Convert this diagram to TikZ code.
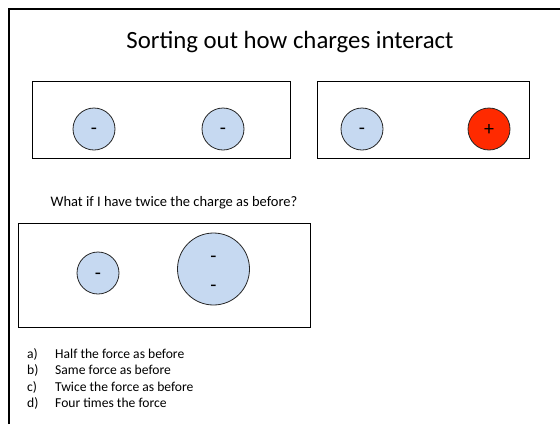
\documentclass[tikz,border=0pt]{standalone}
\usepackage{fontspec}
\setmainfont{Carlito}
\definecolor{chargeblue}{HTML}{C6D9F1}
\definecolor{chargered}{HTML}{FF2A00}
\begin{document}
\begin{tikzpicture}[x=1pt,y=-1pt,
  panel/.style={draw=black,line width=1pt},
  ball/.style={circle,draw=black!85,line width=0.8pt,minimum size=42pt,inner sep=0pt},
  neg/.style={ball,fill=chargeblue},
  posc/.style={ball,fill=chargered},
  bigneg/.style={circle,draw=black!85,line width=0.8pt,fill=chargeblue,minimum size=72pt,inner sep=0pt},
  sign/.style={inner sep=0pt,font=\fontsize{20}{20}\selectfont},
  item/.style={anchor=west,inner sep=0pt,font=\fontsize{13.6}{13.6}\selectfont}]
\useasboundingbox (0,0) rectangle (560,424);
% slide frame
\draw[line width=2.5pt] (8.8,424) -- (8.8,9) -- (560,9);
\node (title) at (290,42) {\fontsize{24.8}{24.8}\selectfont Sorting out how charges interact};
% panel 1
\draw[panel] (32,81) rectangle (290,158);
\node[neg] (a1) at (94,129) {};
\node[sign] (a1s) at (94,131) {-};
\node[neg] (a2) at (223,129) {};
\node[sign] (a2s) at (223,131) {-};
% panel 2
\draw[panel] (317,81) rectangle (529,158);
\node[neg] (b1) at (362,129) {};
\node[sign] (b1s) at (362,131) {-};
\node[posc] (b2) at (489,129) {};
\node[sign] (b2s) at (489,130) {+};
% question
\node (q) at (174,203) {\fontsize{14.5}{14.5}\selectfont What if I have twice the charge as before?};
% panel 3
\draw[panel] (18,223) rectangle (310,327);
\node[neg] (c1) at (98,273) {};
\node[sign] (c1s) at (98,276) {-};
\node[bigneg] (c2) at (213.5,269) {};
\node[sign] (c2a) at (213.5,259) {-};
\node[sign] (c2b) at (213.5,288) {-};
% answers
\node[item] (la) at (27,354) {a)};
\node[item] (ta) at (55,354) {Half the force as before};
\node[item] (lb) at (27,370) {b)};
\node[item] (tb) at (55,370) {Same force as before};
\node[item] (lc) at (27,387) {c)};
\node[item] (tc) at (55,387) {Twice the force as before};
\node[item] (ld) at (27,403) {d)};
\node[item] (td) at (55,403) {Four times the force};
\end{tikzpicture}
\end{document}
